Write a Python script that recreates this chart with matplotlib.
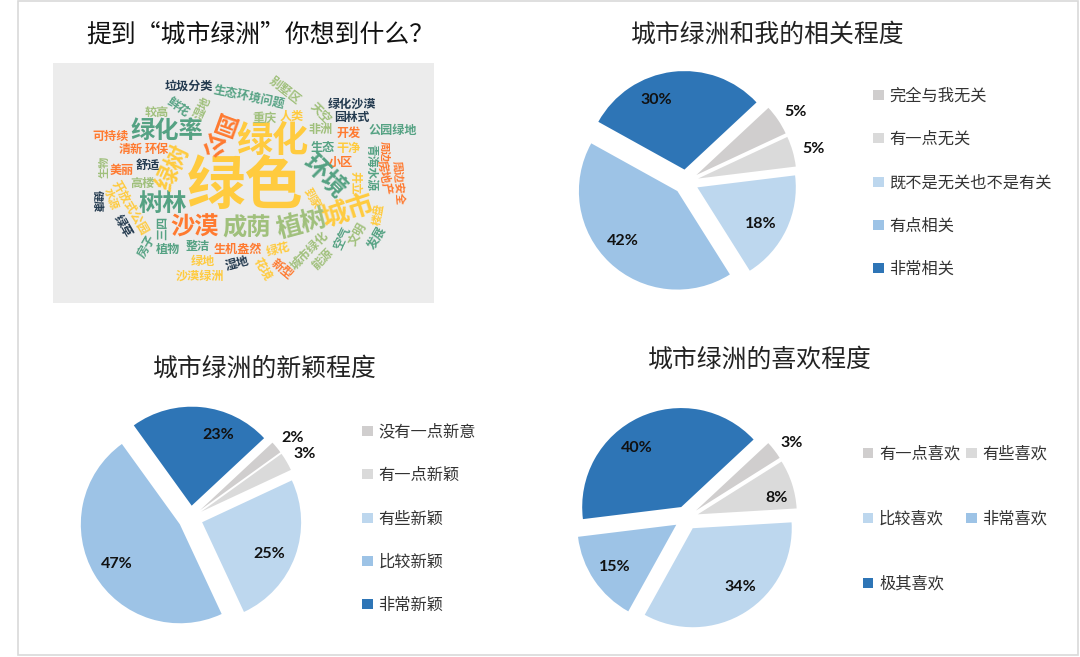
import matplotlib
matplotlib.use('Agg')
import matplotlib.pyplot as plt
from matplotlib.patches import Rectangle

plt.rcParams['font.family'] = ['Noto Sans CJK SC', 'DejaVu Sans']

W, H = 1080, 657

# pie data
titles = ['城市绿洲和我的相关程度', '城市绿洲的新颖程度', '城市绿洲的喜欢程度']
labels_rel = ['完全与我无关', '有一点无关', '既不是无关也不是有关', '有点相关', '非常相关']
values_rel = [5, 5, 18, 42, 30]
labels_new = ['没有一点新意', '有一点新颖', '有些新颖', '比较新颖', '非常新颖']
values_new = [2, 3, 25, 47, 23]
labels_like = ['有一点喜欢', '有些喜欢', '比较喜欢', '非常喜欢', '极其喜欢']
values_like = [3, 8, 34, 15, 40]

colors = ['#d0cece', '#dadada', '#bdd7ee', '#9dc3e6', '#2e75b6']

# word cloud
cloud_bg = '#ececec'
words = ['绿色', '绿化', '绿化率', '环境', '城市', '植树', '成荫', '沙漠', '树林', '园', '公', '绿树',
         '垃圾分类', '生态环境问题', '别墅区', '绿化沙漠', '园林式', '公园绿地', '天空', '重庆', '人类',
         '非洲', '开发', '生态', '干净', '小区', '青海水源', '周边', '房地产', '周边安全', '井立',
         '鲜花', '湿地', '较高', '可持续', '清新', '环保', '舒适', '美丽', '生物', '高楼',
         '开放式公园', '水源', '健康', '绿草', '三四', '房子', '植物', '整洁', '生机盎然', '绿花',
         '绿地', '沙漠绿洲', '湿地', '花境', '新型', '城市绿化', '能源', '空气', '文明', '楼盘', '发展', '到家']
# pixel centre x, y, size, rotation, colour index
word_x = [245, 272, 167, 324, 348, 302, 247, 195, 163, 225, 215, 173,
          189, 249, 285, 352, 352, 393, 320, 265, 292,
          321, 349, 323, 349, 341, 371, 384, 385, 398, 355,
          178, 203, 157, 111, 131, 157, 148, 122, 104, 142,
          130, 111, 97, 123, 162, 147, 168, 198, 238, 278,
          203, 200, 237, 263, 282, 310, 323, 342, 358, 378, 377, 312]
word_y = [188, 141, 131, 177, 211, 224, 229, 228, 204, 122, 143, 168,
          86, 97, 91, 104, 118, 130, 113, 118, 116,
          130, 133, 148, 148, 162, 168, 151, 178, 183, 183,
          107, 108, 113, 136, 150, 150, 165, 170, 167, 183,
          208, 199, 201, 226, 228, 246, 249, 247, 249, 249,
          261, 276, 263, 269, 269, 251, 259, 238, 234, 214, 238, 198]
word_size = [42, 26, 17.5, 18, 19.5, 18.5, 17.5, 17.5, 17.5, 17, 17, 17,
             8.7, 8.7, 8.7, 8.7, 8.5, 8.7, 8.7, 8.7, 8.7,
             8.7, 8.7, 8.7, 8.7, 8.7, 8.5, 7.5, 8.5, 8, 8.5,
             8.7, 8.7, 8.7, 8.7, 8.7, 8.7, 8.7, 8.7, 8, 8.7,
             8.7, 8, 8, 8.7, 8.7, 8.7, 8.7, 8.7, 8.7, 8.7,
             8.7, 8.7, 8.7, 8.7, 8.7, 8.7, 8.7, 8.7, 8.7, 8, 8.7, 8]
word_rot = [0, 0, 0, -45, 18, 15, 0, 0, 0, 160, 160, 65,
            0, -12, -38, 0, 0, 0, -45, 0, 0,
            0, 0, 0, 0, 0, -90, -90, -80, -85, -90,
            -35, 65, 0, 0, 0, 0, 0, 0, 90, 0,
            -60, -70, -90, -60, 90, 60, 0, 0, 0, 15,
            0, 0, 15, -60, -40, 45, 45, 65, 60, 80, 60, -60]
word_col = [0, 0, 1, 1, 0, 2, 2, 3, 1, 3, 3, 0,
            4, 1, 2, 4, 4, 1, 2, 2, 0,
            2, 3, 1, 0, 3, 1, 3, 3, 3, 0,
            1, 2, 2, 3, 3, 3, 4, 3, 2, 2,
            0, 0, 4, 4, 1, 1, 1, 1, 3, 0,
            0, 0, 4, 0, 3, 2, 2, 1, 2, 0, 1, 0]
word_colors = ['#ffcb3f', '#55a283', '#a0c07c', '#ff7a30', '#233a4f']


def draw_pie(fig, values, cx, cy, r, start, explode, lab_xy):
    # axes spans 3 radii so the exploded slices have room
    s = r * 1.5
    ax = fig.add_axes([(cx - s) / W, 1 - (cy + s) / H, 2 * s / W, 2 * s / H], zorder=2)
    ax.pie(values, colors=colors, startangle=start, counterclock=False,
           explode=[explode] * len(values), wedgeprops={'linewidth': 0})
    ax.set_xlim(-1.5, 1.5)
    ax.set_ylim(-1.5, 1.5)
    ax.axis('off')
    for v, (x, y) in zip(values, lab_xy):
        ax.text(x / W, 1 - (y + 1) / H, f'{v}%', transform=fig.transFigure, fontsize=11.5, fontweight='bold',
                color='#111111', ha='center', va='center', family=['Lato', 'DejaVu Sans'])


def legend_item(fig, x, y, label, color):
    fig.add_artist(Rectangle((x / W, 1 - (y + 5.2) / H), 10.5 / W, 10.5 / H, transform=fig.transFigure,
                             facecolor=color, edgecolor='none'))
    fig.text((x + 16.5) / W, 1 - (y + 1) / H, label, fontsize=11.7, color='#333333', ha='left', va='center')


fig = plt.figure(figsize=(W / 100, H / 100), dpi=100)

# outer frame
fig.add_artist(Rectangle((18 / W, 1 - 655 / H), 1060 / W, 654 / H, transform=fig.transFigure,
                         facecolor='none', edgecolor='#d9d9d9', linewidth=1.2))

# titles
fig.text(260 / W, 1 - 35 / H, '提到“城市绿洲”你想到什么？', fontsize=17.9, color='#111111', ha='center', va='center')
fig.text(768 / W, 1 - 35 / H, titles[0], fontsize=17.9, color='#222222', ha='center', va='center')
fig.text(265 / W, 1 - 369 / H, titles[1], fontsize=17.9, color='#222222', ha='center', va='center')
fig.text(760 / W, 1 - 360 / H, titles[2], fontsize=17.9, color='#222222', ha='center', va='center')

# word cloud panel
fig.add_artist(Rectangle((53 / W, 1 - 303 / H), 381 / W, 240 / H, transform=fig.transFigure,
                         facecolor=cloud_bg, edgecolor='none'))
for w, x, y, sz, rot, c in zip(words, word_x, word_y, word_size, word_rot, word_col):
    fig.text(x / W, 1 - y / H, w, fontsize=sz, rotation=rot, color=word_colors[c],
             fontweight='bold', ha='center', va='center', rotation_mode='anchor')

# pies
draw_pie(fig, values_rel, 686, 182, 98.5, 43, 0.127,
         [(796, 111), (814, 148), (761, 223), (623, 240), (656, 99)])
draw_pie(fig, values_new, 190.5, 518, 99, 43, 0.125,
         [(293, 437), (305, 453), (269, 553), (117, 563), (218, 434)])
draw_pie(fig, values_like, 686.3, 518, 99, 43, 0.122,
         [(792, 442), (777, 497), (740, 586), (615, 566), (637, 447)])

# legends
leg_y_rel = [95, 138, 182, 225, 268]
for y, lab, col in zip(leg_y_rel, labels_rel, colors):
    legend_item(fig, 873, y, lab, col)
leg_y_new = [431, 474, 518, 561, 604]
for y, lab, col in zip(leg_y_new, labels_new, colors):
    legend_item(fig, 362, y, lab, col)
leg_x_like = [862.5, 966, 862.5, 966, 862.5]
leg_y_like = [453, 453, 518, 518, 583]
for x, y, lab, col in zip(leg_x_like, leg_y_like, labels_like, colors):
    legend_item(fig, x, y, lab, col)

fig.savefig('out.png', dpi=100)
